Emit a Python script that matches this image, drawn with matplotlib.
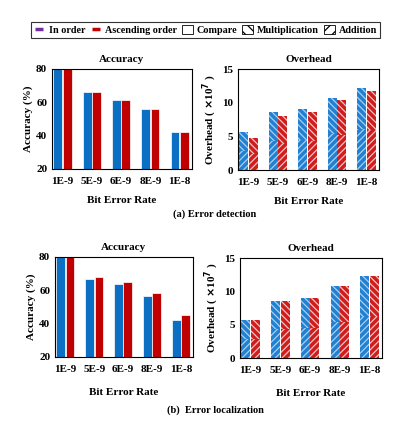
import matplotlib

matplotlib.use("Agg")
import matplotlib.pyplot as plt
import numpy as np
from matplotlib.patches import Patch
from matplotlib.lines import Line2D

plt.rcParams["font.family"] = ["Liberation Serif", "DejaVu Serif"]
plt.rcParams["font.weight"] = "bold"
plt.rcParams["axes.labelweight"] = "bold"
plt.rcParams["axes.titleweight"] = "bold"
plt.rcParams["hatch.linewidth"] = 0.9

etiquetas = ["1E-9", "5E-9", "6E-9", "8E-9", "1E-8"]

acc_det_orden = [80, 65.9, 61.2, 55.8, 42.4]
acc_det_asc = [80, 65.9, 61.6, 55.8, 42.4]
ovh_det_orden = [5.65, 8.65, 9.0, 10.7, 12.2]
ovh_det_asc = [4.7, 7.95, 8.55, 10.35, 11.8]

acc_loc_orden = [80, 66.7, 63.9, 56.7, 42.5]
acc_loc_asc = [80, 67.9, 65.3, 58.3, 45.0]
ovh_loc_orden = [5.65, 8.6, 9.05, 10.85, 12.25]
ovh_loc_asc = [5.65, 8.6, 9.05, 10.85, 12.25]

AZUL = "#0b6fc4"
ROJO = "#c00000"
AZUL_H = "#2280d2"
ROJO_H = "#cf1c1c"
ANCHO = 0.3
x = np.arange(len(etiquetas))


def estilo(ax, titulo, ylabel, ylim, yticks, pad_x=7):
    ax.set_title(titulo, fontsize=8, pad=5)
    ax.set_ylabel(ylabel, fontsize=8, labelpad=2)
    ax.set_xlabel("Bit Error Rate", fontsize=8, labelpad=pad_x)
    ax.set_ylim(*ylim)
    ax.set_yticks(yticks)
    ax.set_xticks(x)
    ax.set_xticklabels(etiquetas, fontsize=8)
    ax.set_xlim(-0.36, 4.42)
    ax.tick_params(axis="both", length=0, labelsize=8)
    ax.tick_params(axis="x", pad=6)
    for lado in ax.spines.values():
        lado.set_linewidth(0.8)


def barras_precision(ax, orden, asc):
    ax.bar(x - ANCHO / 2 - 0.01, orden, ANCHO, color=AZUL, edgecolor="white", linewidth=0.5)
    ax.bar(x + ANCHO / 2 + 0.01, asc, ANCHO, color=ROJO, edgecolor="white", linewidth=0.5)


def barras_sobrecosto(ax, orden, asc):
    for desp, valores, color, claro in [(-ANCHO / 2 - 0.01, orden, AZUL_H, "#a8d0f0"),
                                        (ANCHO / 2 + 0.01, asc, ROJO_H, "#f4c4c4")]:
        valores = np.array(valores)
        mitad = valores * 0.5
        ax.bar(x + desp, mitad, ANCHO, color=color, edgecolor=claro, hatch="/////", linewidth=0)
        ax.bar(x + desp, valores - mitad, ANCHO, bottom=mitad, color=color,
               edgecolor=claro, hatch="\\\\\\\\\\", linewidth=0)


fig = plt.figure(figsize=(3.99, 4.32), dpi=100)
W, H = 399, 432


def ejes(izq, arriba, der, abajo):
    return fig.add_axes([izq / W, 1 - abajo / H, (der - izq) / W, (abajo - arriba) / H])


ax1 = ejes(52, 69, 192, 169)
ax2 = ejes(238, 69, 379, 170)
ax3 = ejes(55, 257, 193, 357)
ax4 = ejes(240, 258, 382, 358)

barras_precision(ax1, acc_det_orden, acc_det_asc)
estilo(ax1, "Accuracy", "Accuracy (%)", (20, 80), [20, 40, 60, 80])
barras_sobrecosto(ax2, ovh_det_orden, ovh_det_asc)
estilo(ax2, "Overhead", r"Overhead ( $\times$10$^7$ )", (0, 15), [0, 5, 10, 15])
barras_precision(ax3, acc_loc_orden, acc_loc_asc)
estilo(ax3, "Accuracy", "Accuracy (%)", (20, 80), [20, 40, 60, 80], pad_x=10)
barras_sobrecosto(ax4, ovh_loc_orden, ovh_loc_asc)
estilo(ax4, "Overhead", r"Overhead ( $\times$10$^7$ )", (0, 15), [0, 5, 10, 15], pad_x=10)

fig.text(215 / W, 1 - 214 / H, "(a) Error detection", ha="center", va="center", fontsize=7.5)
fig.text(215 / W, 1 - 410 / H, "(b)  Error localization", ha="center", va="center", fontsize=7.5)

manijas = [
    Line2D([], [], color="#7030a0", marker="_", markersize=6, mew=2.5, linestyle="none"),
    Line2D([], [], color=ROJO, marker="_", markersize=6, mew=2.5, linestyle="none"),
    Patch(facecolor="white", edgecolor="black", linewidth=0.6),
    Patch(facecolor="white", edgecolor="black", hatch="\\\\\\", linewidth=0.6),
    Patch(facecolor="white", edgecolor="black", hatch="///", linewidth=0.6),
]
nombres = ["In order", "Ascending order", "Compare", "Multiplication", "Addition"]
leg = fig.legend(manijas, nombres, loc="center", bbox_to_anchor=(205.5 / W, 1 - 30 / H), ncol=5,
                 fontsize=7.3, frameon=True, fancybox=False, handlelength=1.1, handletextpad=0.35,
                 columnspacing=0.5, borderpad=0.3, borderaxespad=0, edgecolor="black",
                 handleheight=0.9)
leg.get_frame().set_linewidth(0.8)

fig.savefig("out.png", dpi=100)
